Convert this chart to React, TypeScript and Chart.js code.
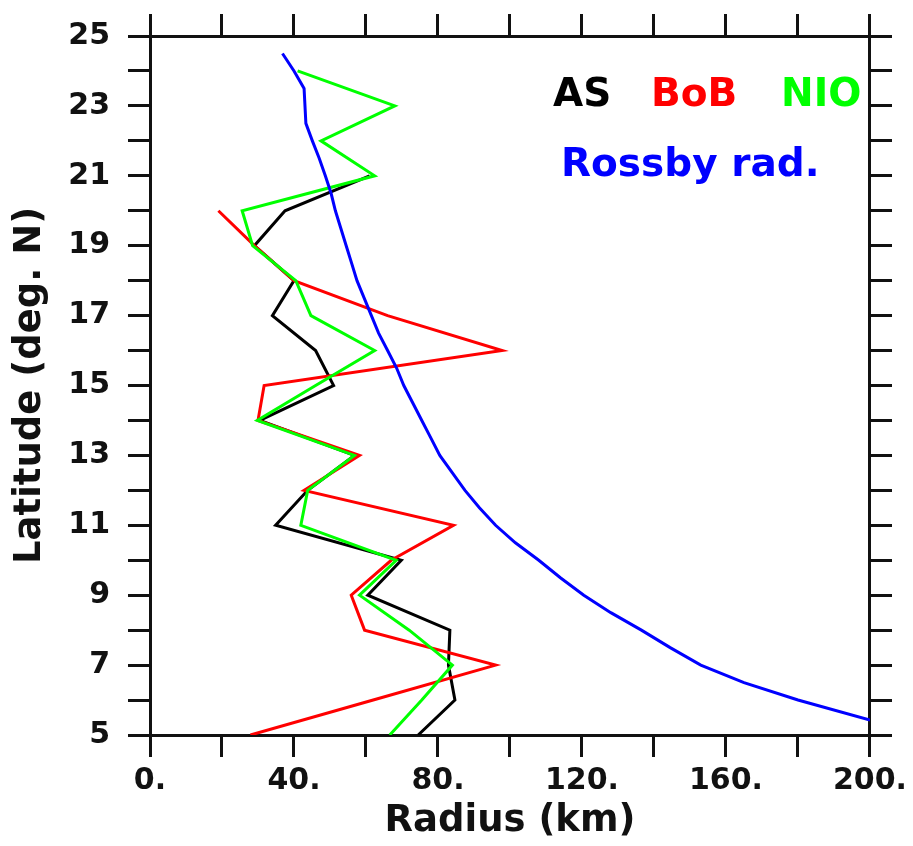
import React, { useEffect, useRef } from "react";
import { Chart, registerables } from "chart.js";

Chart.register(...registerables);

// Latitude grid for the basin-mean radius profiles (deg N)
const latitudes = [5, 6, 7, 8, 9, 10, 11, 12, 13, 14, 15, 16, 17, 18, 19, 20, 21, 22, 23, 24];

// Radius (km) per latitude; null = no value
const asRadius = [74.5, 84.7, 82.9, 83.3, 60.5, 69.8, 34.9, 43.8, 56.8, 30.5, 51, 46, 34, 40, 29, 37.5, 61, null, null, null];
const bobRadius = [27.9, 62, 96, 59.6, 55.9, 67, 84.3, 42.8, 58.2, 30, 31.7, 97.8, 66, 40, 29, 19, null, null, null, null];
const nioRadius = [66.6, 75.5, 84, 72, 58.2, 68.4, 41.9, 43.8, 56.8, 29.8, 46, 62.4, 44.7, 40.5, 28.5, 25.6, 62.4, 47.5, 68, 41];

// Rossby radius curve
const rossbyLat = [5.43, 6, 6.5, 7, 7.5, 8, 8.5, 9, 9.5, 10, 10.5, 11, 11.5, 12, 12.5, 13, 13.5, 14, 14.5, 15, 15.5, 16, 16.5, 17, 17.5, 18, 18.5, 19, 19.5, 20, 20.5, 21, 21.5, 22, 22.5, 23.5, 24, 24.5];
const rossbyRadius = [200, 180, 165, 153, 144.5, 136.5, 128, 120.5, 114, 108, 101.5, 96, 91.5, 87.5, 84, 80.5, 78, 75.5, 73, 70.5, 68.5, 66, 63.5, 61.5, 59.5, 57.5, 56, 54.5, 53, 51.5, 50.3, 48.7, 47, 45.1, 43.3, 42.8, 40, 36.8];

// Tick labels
const xTickLabels: Record<number, string> = { 0: "0.", 40: "40.", 80: "80.", 120: "120.", 160: "160.", 200: "200." };
const yTickLabels = ["5", "7", "9", "11", "13", "15", "17", "19", "21", "23", "25"];

const seriesNames = ["AS", "BoB", "NIO", "Rossby rad."];

function toPoints(lats: number[], vals: (number | null)[]) {
  const pts: { x: number; y: number }[] = [];
  lats.forEach((lat, i) => {
    const v = vals[i];
    if (v !== null && v !== undefined) pts.push({ x: v, y: lat });
  });
  return pts;
}

const legendPlugin = {
  id: "textLegend",
  afterDraw(chart: any) {
    const ctx = chart.ctx;
    ctx.save();
    ctx.font = 'bold 39px "DejaVu Sans"';
    ctx.textAlign = "left";
    ctx.textBaseline = "alphabetic";
    ctx.fillStyle = "#000000";
    ctx.fillText(seriesNames[0], 553, 106);
    ctx.fillStyle = "#ff0000";
    ctx.fillText(seriesNames[1], 651, 106);
    ctx.fillStyle = "#00ff00";
    ctx.fillText(seriesNames[2], 781, 106);
    ctx.fillStyle = "#0000ff";
    ctx.fillText(seriesNames[3], 561, 176);
    ctx.restore();
  },
};

export default function App() {
  const canvasRef = useRef<HTMLCanvasElement | null>(null);

  useEffect(() => {
    if (!canvasRef.current) return;
    Chart.defaults.font.family = '"DejaVu Sans"';
    const axisColor = "#111111";
    const gridCommon = {
      drawOnChartArea: false,
      drawTicks: true,
      tickLength: 22,
      tickWidth: 3,
      tickColor: axisColor,
      lineWidth: 3,
    };
    const border = { display: true, width: 3, color: axisColor };
    const chart = new Chart(canvasRef.current, {
      type: "scatter",
      data: {
        datasets: [
          {
            label: seriesNames[3],
            data: toPoints(rossbyLat, rossbyRadius),
            borderColor: "#0000ff",
            borderWidth: 3,
            showLine: true,
            pointRadius: 0,
            xAxisID: "x",
            yAxisID: "y",
          },
          {
            label: seriesNames[2],
            data: toPoints(latitudes, nioRadius),
            borderColor: "#00ff00",
            borderWidth: 3,
            showLine: true,
            pointRadius: 0,
            xAxisID: "x",
            yAxisID: "y",
          },
          {
            label: seriesNames[1],
            data: toPoints(latitudes, bobRadius),
            borderColor: "#ff0000",
            borderWidth: 3,
            showLine: true,
            pointRadius: 0,
            xAxisID: "x",
            yAxisID: "y",
          },
          {
            label: seriesNames[0],
            data: toPoints(latitudes, asRadius),
            borderColor: "#000000",
            borderWidth: 3,
            showLine: true,
            pointRadius: 0,
            xAxisID: "x",
            yAxisID: "y",
          },
        ],
      },
      options: {
        animation: false,
        responsive: false,
        maintainAspectRatio: false,
        layout: { padding: 0 },
        plugins: {
          legend: { display: false },
          tooltip: { enabled: false },
        },
        elements: { line: { tension: 0 } },
        scales: {
          x: {
            type: "linear",
            position: "bottom",
            min: 0,
            max: 200,
            grid: gridCommon,
            border,
            ticks: {
              stepSize: 20,
              autoSkip: false,
              maxRotation: 0,
              padding: 6,
              color: "#111",
              font: { size: 30, weight: "bold" },
              callback: (v: any) => xTickLabels[Number(v)] ?? "",
            },
            title: {
              display: true,
              text: "Radius (km)",
              color: "#111",
              font: { size: 37, weight: "bold" },
              padding: { top: 0, bottom: 2 },
            },
            afterFit: (s: any) => {
              s.height = 111;
            },
          },
          x2: {
            type: "linear",
            axis: "x",
            position: "top",
            min: 0,
            max: 200,
            grid: gridCommon,
            border,
            ticks: { stepSize: 20, autoSkip: false, display: false },
            afterFit: (s: any) => {
              s.height = 35;
            },
          },
          y: {
            type: "linear",
            position: "left",
            min: 5,
            max: 25,
            grid: gridCommon,
            border,
            ticks: {
              stepSize: 1,
              autoSkip: false,
              padding: 18,
              color: "#111",
              font: { size: 30, weight: "bold" },
              callback: (v: any) => (yTickLabels.includes(String(v)) ? String(v) : ""),
            },
            title: {
              display: true,
              text: "Latitude (deg. N)",
              color: "#111",
              font: { size: 37, weight: "bold" },
              padding: { top: 8, bottom: 0 },
            },
            afterFit: (s: any) => {
              s.width = 150;
            },
          },
          y2: {
            type: "linear",
            axis: "y",
            position: "right",
            min: 5,
            max: 25,
            grid: gridCommon,
            border,
            ticks: { stepSize: 1, autoSkip: false, display: false },
            afterFit: (s: any) => {
              s.width = 43;
            },
          },
        },
      } as any,
      plugins: [legendPlugin],
    });
    return () => chart.destroy();
  }, []);

  return (
    <div style={{ position: "absolute", left: 0, top: 0, width: 913, height: 846, background: "#fff" }}>
      <canvas ref={canvasRef} width={913} height={846} style={{ width: 913, height: 846 }} />
    </div>
  );
}
